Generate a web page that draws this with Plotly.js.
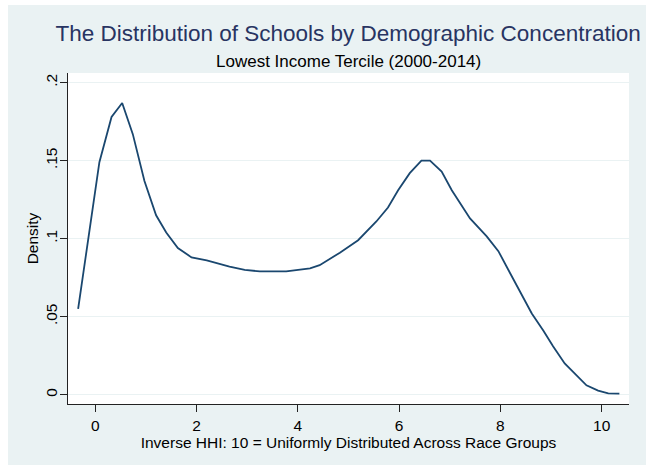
<!DOCTYPE html>
<html>
<head>
<meta charset="utf-8">
<script src="https://cdn.plot.ly/plotly-3.0.1.min.js"></script>
<style>
  html, body { margin: 0; padding: 0; background: #ffffff; }
  #chart { position: absolute; left: 8px; top: 5px; width: 638px; height: 460px; }
</style>
</head>
<body>
<div id="chart"></div>
<script>
// Kernel density of inverse HHI, lowest income tercile
const hhiX = [-0.34, -0.15, 0.08, 0.32, 0.53, 0.74, 0.97, 1.2, 1.4, 1.63, 1.9, 2.2, 2.65, 2.95, 3.25, 3.77, 4.24, 4.43, 4.83, 5.19, 5.55, 5.78, 5.98, 6.21, 6.44, 6.61, 6.84, 7.04, 7.4, 7.73, 7.96, 8.19, 8.42, 8.62, 8.85, 9.04, 9.27, 9.51, 9.7, 9.93, 10.13, 10.35];
const densityY = [0.055, 0.098, 0.149, 0.178, 0.187, 0.167, 0.137, 0.115, 0.104, 0.094, 0.088, 0.086, 0.082, 0.080, 0.079, 0.079, 0.081, 0.083, 0.091, 0.099, 0.111, 0.120, 0.131, 0.142, 0.150, 0.150, 0.143, 0.131, 0.113, 0.1015, 0.092, 0.078, 0.064, 0.052, 0.041, 0.031, 0.020, 0.012, 0.006, 0.0026, 0.0008, 0.0006];

const xTickVals = [0, 2, 4, 6, 8, 10];
const xTickText = ['0', '2', '4', '6', '8', '10'];
const yTickVals = [0, 0.05, 0.1, 0.15, 0.2];
const yTickText = ['0', '.05', '.1', '.15', '.2'];

const FONT = 'Liberation Sans, Arial, sans-serif';
const BG = '#EAF2F3';

const trace = {
  x: hhiX,
  y: densityY,
  type: 'scatter',
  mode: 'lines',
  line: { color: '#1A476F', width: 1.8 },
  hoverinfo: 'skip'
};

const layout = {
  width: 638,
  height: 460,
  paper_bgcolor: BG,
  plot_bgcolor: '#ffffff',
  margin: { l: 60, r: 17, t: 68, b: 61 },
  showlegend: false,
  font: { family: FONT, color: '#000000', size: 15.5 },
  title: {
    text: 'The Distribution of Schools by Demographic Concentration',
    font: { family: FONT, size: 22.5, color: '#283462' },
    x: 0.533, xanchor: 'center', xref: 'container',
    y: 0.939, yanchor: 'middle', yref: 'container'
  },
  annotations: [{
    text: 'Lowest Income Tercile (2000-2014)',
    xref: 'paper', yref: 'paper',
    x: 0.5, y: 1.036, xanchor: 'center', yanchor: 'middle',
    showarrow: false,
    font: { family: FONT, size: 17, color: '#000000' }
  }],
  xaxis: {
    range: [-0.54, 10.54],
    tickvals: xTickVals,
    ticktext: xTickText,
    ticks: 'outside', ticklen: 7, tickcolor: '#222222', tickwidth: 1,
    showline: true, linecolor: '#222222', linewidth: 1,
    showgrid: false, zeroline: false,
    tickfont: { family: FONT, size: 15.5 },
    title: { text: 'Inverse HHI: 10 = Uniformly Distributed Across Race Groups',
             font: { family: FONT, size: 15.5 }, standoff: 0 }
  },
  yaxis: {
    range: [-0.006, 0.2062],
    tickvals: yTickVals,
    ticktext: yTickText,
    tickangle: -90,
    ticklabelstandoff: -3,
    ticks: 'outside', ticklen: 7, tickcolor: '#222222', tickwidth: 1,
    showline: true, linecolor: '#222222', linewidth: 1,
    showgrid: true, gridcolor: BG, gridwidth: 1.5,
    zeroline: false,
    tickfont: { family: FONT, size: 15.5 },
    title: { text: 'Density', font: { family: FONT, size: 15.5 }, standoff: 0 }
  }
};

Plotly.newPlot('chart', [trace], layout, { displayModeBar: false, staticPlot: true });
</script>
</body>
</html>
